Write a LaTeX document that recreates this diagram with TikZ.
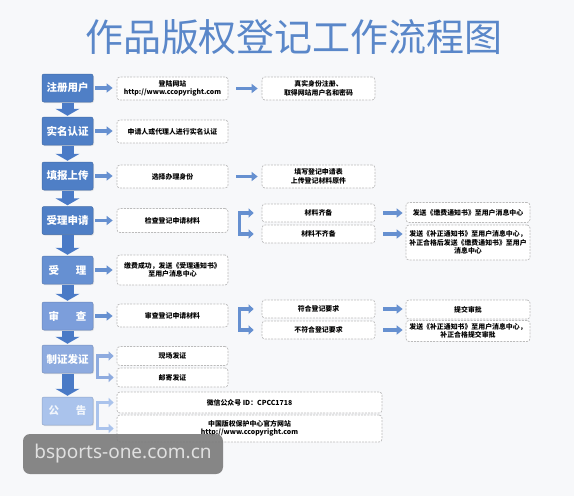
\documentclass[tikz,border=0pt]{standalone}
\usepackage{fontspec}
\setmainfont{Noto Sans CJK SC}
\newfontfamily\wmfont{Noto Sans}
\usetikzlibrary{calc,arrows.meta,shadows}
\definecolor{bgc}{HTML}{F7F8FA}
\definecolor{titc}{HTML}{5A87C9}
\definecolor{bA}{HTML}{4F7FC6}
\definecolor{bB}{HTML}{6690D2}
\definecolor{bC}{HTML}{7C9EDB}
\definecolor{bD}{HTML}{8EABDF}
\definecolor{bE}{HTML}{AAC3EC}
\definecolor{arrc}{HTML}{6690D0}
\definecolor{darrc}{HTML}{4A7AC6}
\definecolor{dashc}{HTML}{BBBBBB}
\begin{document}
\begin{tikzpicture}[x=1pt,y=-1pt,
  bbox/.style={rounded corners=2pt, minimum width=51pt, minimum height=28pt, inner sep=0pt,
    text=white, font=\bfseries\fontsize{10.5}{12}\selectfont, fill=#1, draw=#1!85!black, line width=0.5pt,
    drop shadow={opacity=0.2, shadow xshift=1pt, shadow yshift=-1pt}},
  dbox/.style={draw=dashc, dash pattern=on 2pt off 1.2pt, rounded corners=3pt, fill=white,
    inner sep=1pt, align=center, font=\bfseries\fontsize{6.9}{8.3}\selectfont, line width=0.7pt},
  harr/.style={line width=3.5pt, draw=arrc, -{Triangle[length=6pt,width=9pt]}},
  sarr/.style={line width=3.5pt, draw=arrc, line join=miter, -{Triangle[length=5pt,width=9pt]}},
  varr/.style={line width=12pt, draw=darrc, -{Triangle[length=7pt,width=24pt]}, shorten <=0.5pt, shorten >=1pt}
]
\fill[bgc] (0,0) rectangle (574,496);
\useasboundingbox (0,0) rectangle (574,496);

% title
\node[text=titc, font=\fontsize{38}{40}\selectfont, inner sep=0pt] (title) at (294,37) {作品版权登记工作流程图};

% left blue boxes
\node[bbox=bA] (b1) at (67.5,88) {注册用户};
\node[bbox=bA] (b2) at (67.5,131) {实名认证};
\node[bbox=bA] (b3) at (67.5,176) {填报上传};
\node[bbox=bA] (b4) at (67.5,220.5) {受理申请};
\node[bbox=bB] (b5) at (67.5,270) {受\hspace{1.6em}理};
\node[bbox=bC] (b6) at (67.5,316) {审\hspace{1.6em}查};
\node[bbox=bD] (b7) at (67.5,359) {制证发证};
\node[bbox=bE, text=white!85!bE] (b8) at (67.5,411) {公\hspace{1.6em}告};

% dashed boxes
\node[dbox, minimum width=111pt, minimum height=23pt] (c11) at (172.5,88.5) {登陆网站\\http://www.ccopyright.com};
\node[dbox, minimum width=113pt, minimum height=23pt] (c12) at (318.5,88.5) {真实身份注册、\\取得网站用户名和密码};
\node[dbox, minimum width=111pt, minimum height=23pt] (c21) at (172.5,131.5) {申请人或代理人进行实名认证};
\node[dbox, minimum width=111pt, minimum height=23pt] (c31) at (172.5,176.5) {选择办理身份};
\node[dbox, minimum width=113pt, minimum height=23pt] (c32) at (318.5,176.5) {填写登记申请表\\上传登记材料原件};
\node[dbox, minimum width=111pt, minimum height=24pt] (c41) at (172.5,220.5) {检查登记申请材料};
\node[dbox, minimum width=113pt, minimum height=18pt] (c42a) at (318.5,213) {材料齐备};
\node[dbox, minimum width=113pt, minimum height=18pt] (c42b) at (318.5,234) {材料不齐备};
\node[dbox, minimum width=124pt, minimum height=20pt] (c43a) at (468,212.5) {发送《缴费通知书》至用户消息中心};
\node[dbox, minimum width=124pt, minimum height=35pt] (c43b) at (468,242.5) {发送《补正通知书》至用户消息中心，\\补正合格后发送《缴费通知书》至用户\\消息中心};
\node[dbox, minimum width=111pt, minimum height=30pt] (c51) at (172.5,270) {缴费成功，发送《受理通知书》\\至用户消息中心};
\node[dbox, minimum width=111pt, minimum height=23pt] (c61) at (172.5,315.5) {审查登记申请材料};
\node[dbox, minimum width=113pt, minimum height=18pt] (c62a) at (318.5,309) {符合登记要求};
\node[dbox, minimum width=113pt, minimum height=18pt] (c62b) at (318.5,330) {不符合登记要求};
\node[dbox, minimum width=124pt, minimum height=19pt] (c63a) at (468,309.5) {提交审批};
\node[dbox, minimum width=124pt, minimum height=21pt] (c63b) at (468,331) {发送《补正通知书》至用户消息中心，\\补正合格提交审批};
\node[dbox, minimum width=111pt, minimum height=19pt] (c71a) at (172.5,356) {现场发证};
\node[dbox, minimum width=111pt, minimum height=19pt] (c71b) at (172.5,377.5) {邮寄发证};
\node[dbox, minimum width=265pt, minimum height=21pt] (c81a) at (249.5,402.5) {微信公众号 ID：CPCC1718};
\node[dbox, minimum width=265pt, minimum height=27pt] (c81b) at (249.5,428.5) {中国版权保护中心官方网站\\http://www.ccopyright.com};

% down arrows
\foreach \a/\b in {b1/b2,b2/b3,b3/b4,b4/b5,b5/b6,b6/b7,b7/b8}
  \draw[varr] (\a.south) -- (\b.north);

% horizontal arrows from blue boxes
\foreach \a/\b in {b1/c11,b2/c21,b3/c31,b4/c41,b5/c51,b6/c61}
  \draw[harr, shorten <=2pt, shorten >=4pt] (\a.east) -- (\a.east -| \b.west);
% col1 -> col2
\draw[harr, shorten <=8pt, shorten >=4pt] (c11.east) -- (c12.west);
\draw[harr, shorten <=8pt, shorten >=4pt] (c31.east) -- (c32.west);
% col2 -> col3
\foreach \a/\b in {c42a/c43a,c42b/c43b,c62a/c63a,c62b/c63b}
  \draw[harr, shorten <=8pt, shorten >=3pt] (\a.east) -- (\a.east -| \b.west);

% split arrows
\coordinate (s4) at ($(c41.east)+(11,0)$);
\draw[sarr, shorten >=8pt] (s4) |- (c42a.west);
\draw[sarr, shorten >=8pt] (s4) |- (c42b.west);
\coordinate (s6) at ($(c61.east)+(11,0)$);
\draw[sarr, shorten >=8pt] (s6) |- (c62a.west);
\draw[sarr, shorten >=8pt] (s6) |- (c62b.west);
\coordinate (s7) at ($(b7.east)+(4,0)$);
\draw[sarr, draw=bD, shorten >=3pt] (s7) |- (c71a.west);
\draw[sarr, draw=bD, shorten >=3pt] (s7) |- (c71b.west);
\coordinate (s8) at ($(b8.east)+(4,0)$);
\draw[sarr, draw=bE, shorten >=3pt] (s8) |- (c81a.west);
\draw[sarr, draw=bE, shorten >=3pt] (s8) |- (c81b.west);

% watermark
\node[fill=black!52, fill opacity=0.9, text opacity=1, rounded corners=7pt, text=white!88!black,
  font=\wmfont\fontsize{19}{20}\selectfont, minimum width=200pt, minimum height=40pt, inner sep=0pt] (wm) at (123,454) {bsports-one.com.cn};
\end{tikzpicture}
\end{document}
